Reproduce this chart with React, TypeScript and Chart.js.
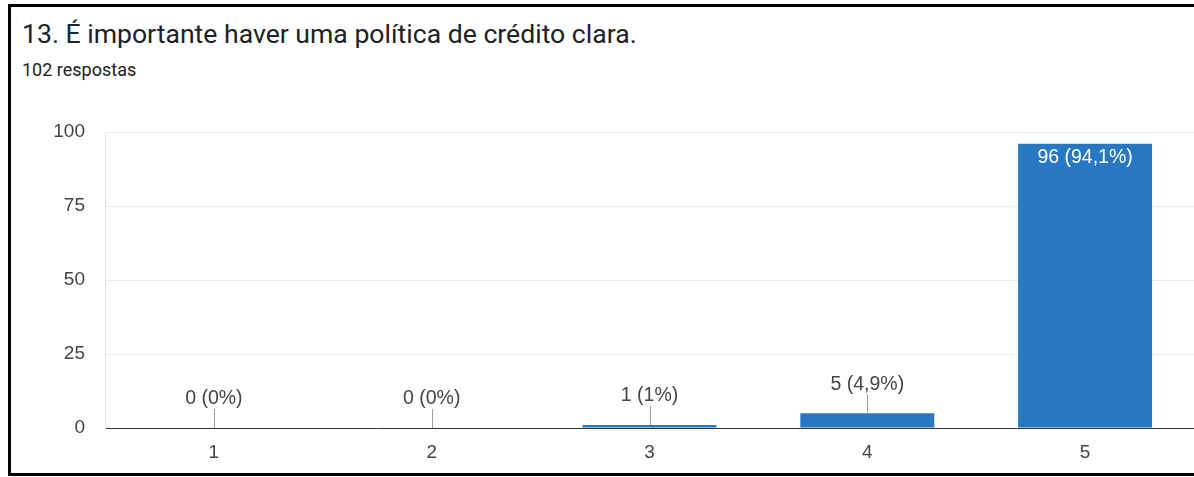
import React, { useEffect, useRef } from "react";
import { Chart, registerables } from "chart.js";

Chart.register(...registerables);

const title = "13. É importante haver uma política de crédito clara.";
const subtitle = "102 respostas";
const categories = ["1", "2", "3", "4", "5"];
const counts = [0, 0, 1, 5, 96];
const percentLabels = ["0%", "0%", "1%", "4,9%", "94,1%"];
const yTicks = [0, 25, 50, 75, 100];

const BAR_COLOR = "#2777c3";
const TEXT_COLOR = "#444444";
const FONT_FAMILY = "'Liberation Sans', Arial, sans-serif";

// Draws "n (p%)" labels: inside tall bars, above short ones with a leader line.
const valueLabels = {
  id: "valueLabels",
  afterDatasetsDraw(chart: any) {
    const { ctx } = chart;
    const meta = chart.getDatasetMeta(0);
    const base = chart.scales.y.getPixelForValue(0);
    ctx.save();
    ctx.font = `19.5px ${FONT_FAMILY}`;
    ctx.textAlign = "center";
    ctx.textBaseline = "middle";
    meta.data.forEach((bar: any, i: number) => {
      const text = `${counts[i]} (${percentLabels[i]})`;
      const top = bar.y;
      const height = base - top;
      if (height > 40) {
        ctx.fillStyle = "#ffffff";
        ctx.fillText(text, bar.x, top + 14);
      } else {
        const lineTop = top - 19;
        ctx.strokeStyle = "#9e9e9e";
        ctx.lineWidth = 1;
        ctx.beginPath();
        ctx.moveTo(Math.round(bar.x) + 0.5, top);
        ctx.lineTo(Math.round(bar.x) + 0.5, lineTop);
        ctx.stroke();
        ctx.fillStyle = TEXT_COLOR;
        ctx.fillText(text, bar.x, lineTop - 10);
      }
    });
    ctx.restore();
  },
};

function BarChart() {
  const canvasRef = useRef<HTMLCanvasElement | null>(null);

  useEffect(() => {
    const canvas = canvasRef.current;
    if (!canvas) return;
    const chart = new Chart(canvas, {
      type: "bar",
      data: {
        labels: categories,
        datasets: [
          {
            data: counts,
            backgroundColor: BAR_COLOR,
            borderWidth: 0,
            barPercentage: 0.615,
            categoryPercentage: 1,
          },
        ],
      },
      options: {
        animation: false,
        responsive: false,
        maintainAspectRatio: false,
        layout: { padding: { top: 32, right: 0, bottom: 0, left: 0 } },
        plugins: {
          legend: { display: false },
          tooltip: { enabled: false },
        },
        scales: {
          x: {
            grid: { display: false, drawTicks: false },
            border: { display: true, color: "#333333", width: 1 },
            ticks: {
              color: TEXT_COLOR,
              font: { family: FONT_FAMILY, size: 19 },
              padding: 13,
            },
            afterFit: (scale: any) => {
              scale.height = 45;
            },
          },
          y: {
            min: 0,
            max: 100,
            afterBuildTicks: (scale: any) => {
              scale.ticks = yTicks.map((v) => ({ value: v }));
            },
            grid: { color: "#ebebeb", drawTicks: false, lineWidth: 1 },
            border: { display: true, color: "#e6e6e6", width: 1 },
            ticks: {
              color: TEXT_COLOR,
              font: { family: FONT_FAMILY, size: 19 },
              padding: 20,
            },
            afterFit: (scale: any) => {
              scale.width = 94;
            },
          },
        },
      },
      plugins: [valueLabels],
    });
    return () => chart.destroy();
  }, []);

  return (
    <canvas
      ref={canvasRef}
      width={1183}
      height={373}
      style={{ position: "absolute", left: 0, top: 93, width: 1183, height: 373 }}
    />
  );
}

export default function App() {
  return (
    <div
      style={{
        position: "fixed",
        left: 0,
        top: 0,
        width: 1194,
        height: 477,
        background: "#ffffff",
        overflow: "hidden",
      }}
    >
      <div
        style={{
          position: "absolute",
          left: 8,
          top: 4,
          width: 1200,
          height: 466,
          border: "3px solid #000000",
          background: "#ffffff",
        }}
      >
        <div
          style={{
            position: "absolute",
            left: 11,
            top: 12,
            fontFamily: "Roboto, sans-serif",
            fontSize: 26.6,
            lineHeight: "30px",
            color: "#202124",
            whiteSpace: "nowrap",
          }}
        >
          {title}
        </div>
        <div
          style={{
            position: "absolute",
            left: 11,
            top: 52,
            fontFamily: "Roboto, sans-serif",
            fontSize: 18,
            lineHeight: "22px",
            color: "#202124",
            whiteSpace: "nowrap",
          }}
        >
          {subtitle}
        </div>
        <BarChart />
      </div>
    </div>
  );
}
